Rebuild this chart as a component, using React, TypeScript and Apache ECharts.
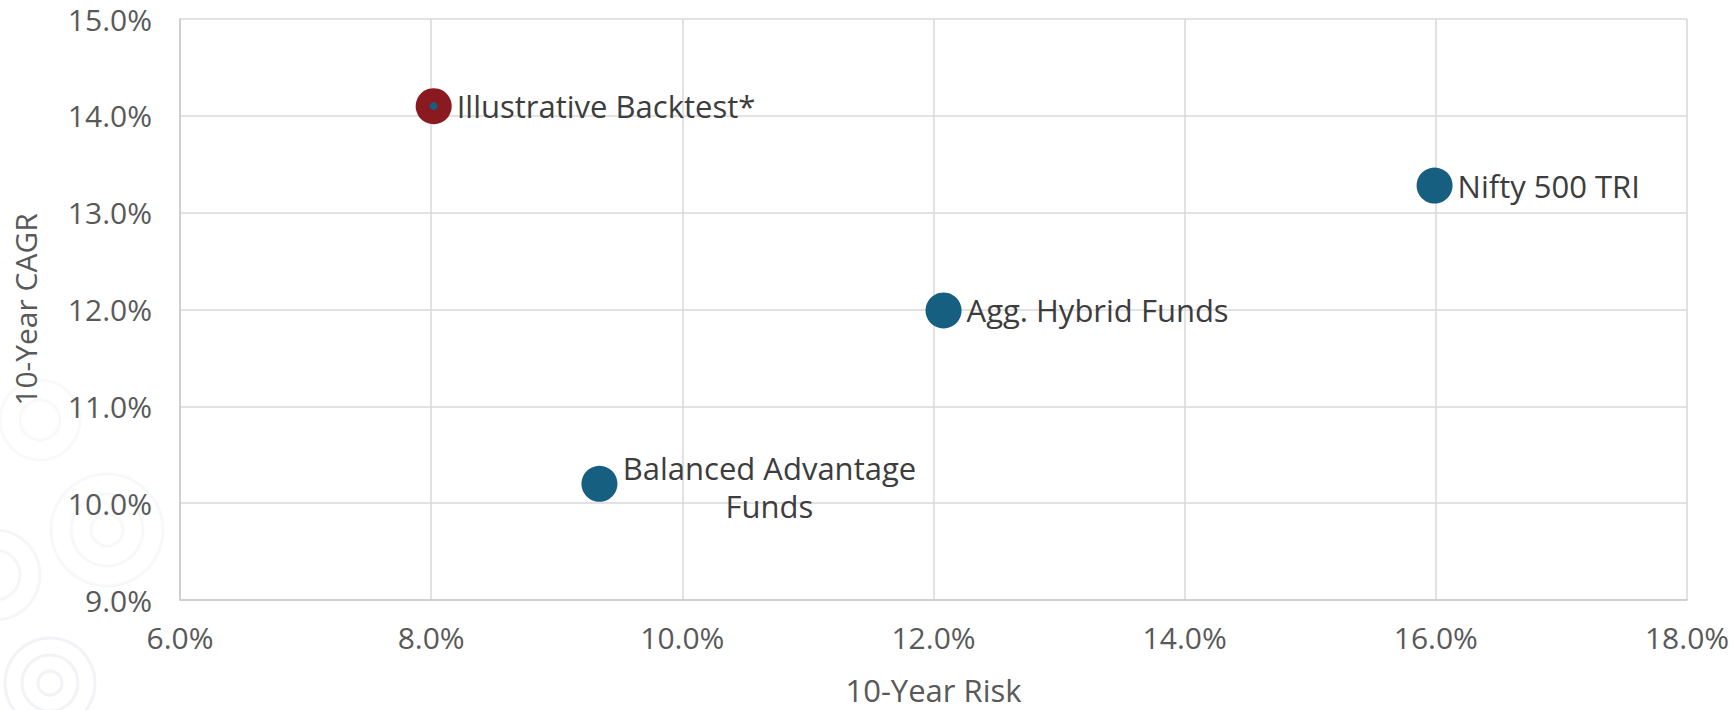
import React, { useEffect, useRef } from "react";
import * as echarts from "echarts";

const names = ["Illustrative Backtest*", "Balanced Advantage Funds", "Agg. Hybrid Funds", "Nifty 500 TRI"];
const labels = ["Illustrative Backtest*", "Balanced Advantage\nFunds", "Agg. Hybrid Funds", "Nifty 500 TRI"];
const risk = [8.02, 9.34, 12.08, 15.99];
const cagr = [14.1, 10.2, 11.99, 13.28];
const xTitle = "10-Year Risk";
const yTitle = "10-Year CAGR";

const FONT = "'Open Sans', 'Noto Sans', sans-serif";
const BLUE = "#175f80";
const RED = "#8a1a20";

function rings(cx: number, cy: number, radii: number[], color: string) {
  return radii.map((r) => ({
    type: "circle",
    shape: { cx, cy, r },
    style: { fill: "none", stroke: color, lineWidth: 3 },
    silent: true,
    z: -10,
  }));
}

export default function App() {
  const ref = useRef<HTMLDivElement>(null);
  useEffect(() => {
    document.body.style.margin = "0";
    const chart = echarts.init(ref.current!, null, { renderer: "svg" });
    const pts = names.map((n, i) => ({
      name: n,
      value: [risk[i], cagr[i]],
      itemStyle: { color: i === 0 ? RED : BLUE, opacity: 1 },
      label:
        i === 1
          ? { align: "center", offset: [147, 3], lineHeight: 38 }
          : {},
    }));
    chart.setOption({
      animation: false,
      backgroundColor: "#ffffff",
      graphic: [
        ...rings(50, 683, [12, 28, 45], "#f2f3f7"),
        ...rings(107, 530, [16, 36, 56], "#f7f8fa"),
        ...rings(-5, 575, [25, 45], "#f5f6f9"),
        ...rings(40, 420, [20, 40], "#f8f9fa"),
      ],
      grid: { left: 180, top: 19, right: 47, bottom: 106 },
      xAxis: {
        type: "value",
        min: 6,
        max: 18,
        interval: 2,
        name: xTitle,
        nameLocation: "middle",
        nameGap: 74,
        nameTextStyle: { fontFamily: FONT, fontSize: 31, color: "#595959" },
        axisLine: { show: true, lineStyle: { color: "#c9c9c9", width: 1.5 } },
        axisTick: { show: false },
        splitLine: { show: true, lineStyle: { color: "#d9d9d9", width: 1.5 } },
        axisLabel: {
          fontFamily: FONT,
          fontSize: 30,
          color: "#595959",
          margin: 22,
          formatter: (v: number) => v.toFixed(1) + "%",
        },
      },
      yAxis: {
        type: "value",
        min: 9,
        max: 15,
        interval: 1,
        name: yTitle,
        nameLocation: "middle",
        nameGap: 140,
        nameTextStyle: { fontFamily: FONT, fontSize: 30, color: "#595959" },
        axisLine: { show: true, lineStyle: { color: "#c9c9c9", width: 1.5 } },
        axisTick: { show: false },
        splitLine: { show: true, lineStyle: { color: "#d9d9d9", width: 1.5 } },
        axisLabel: {
          fontFamily: FONT,
          fontSize: 30,
          color: "#595959",
          margin: 28,
          formatter: (v: number) => v.toFixed(1) + "%",
        },
      },
      series: [
        {
          type: "scatter",
          symbolSize: 36,
          data: pts,
          label: {
            show: true,
            position: "right",
            distance: 5,
            fontFamily: FONT,
            fontSize: 31,
            color: "#3d3d3d",
            formatter: (p: any) => labels[p.dataIndex],
          },
          z: 2,
        },
        {
          type: "scatter",
          symbolSize: 8,
          data: [[risk[0], cagr[0]]],
          itemStyle: { color: BLUE, opacity: 1 },
          z: 3,
        },
      ],
    });
    return () => chart.dispose();
  }, []);
  return <div ref={ref} style={{ width: 1734, height: 710 }} />;
}
